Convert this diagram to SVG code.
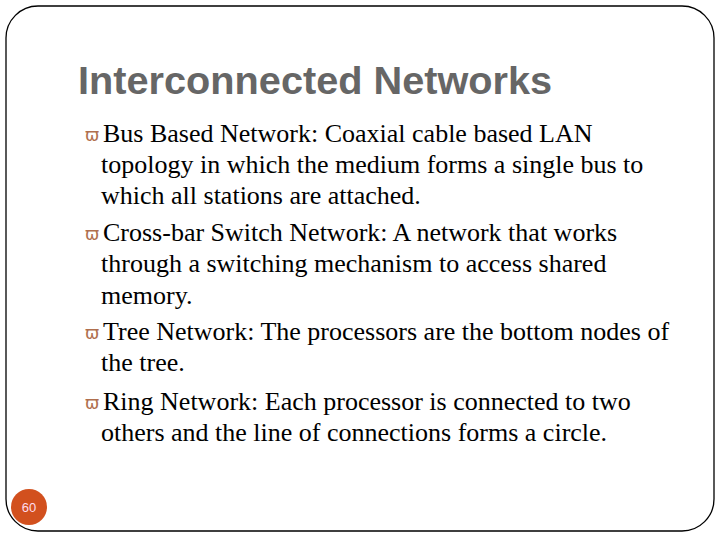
<svg xmlns="http://www.w3.org/2000/svg" width="720" height="540" viewBox="0 0 720 540">
<style>
.t{font-family:"Liberation Serif",serif;font-size:26px;fill:#000}
.b{font-family:"DejaVu Sans",sans-serif;font-size:17px;fill:#b06f4e}
</style>
<rect width="720" height="540" fill="#fff"/>
<rect x="6" y="6" width="708" height="525" rx="32" fill="none" stroke="#000" stroke-width="1.3"/>
<g id="title"><text x="78" y="94" font-family="Liberation Sans,sans-serif" font-weight="bold" font-size="39.7" fill="#666">Interconnected Networks</text></g>
<g id="body">
<text class="b" x="85" y="141">ϖ</text><text class="t" x="103" y="142">Bus Based Network: Coaxial cable based LAN</text>
<text class="t" x="101" y="173">topology in which the medium forms a single bus to</text>
<text class="t" x="101" y="204">which all stations are attached.</text>
<text class="b" x="85" y="240">ϖ</text><text class="t" x="103" y="241">Cross-bar Switch Network: A network that works</text>
<text class="t" x="101" y="272">through a switching mechanism to access shared</text>
<text class="t" x="101" y="304">memory.</text>
<text class="b" x="85" y="339">ϖ</text><text class="t" x="103" y="340">Tree Network: The processors are the bottom nodes of</text>
<text class="t" x="101" y="371">the tree.</text>
<text class="b" x="85" y="409">ϖ</text><text class="t" x="103" y="410">Ring Network: Each processor is connected to two</text>
<text class="t" x="101" y="441">others and the line of connections forms a circle.</text>
</g>
<g id="page"><circle cx="29" cy="507" r="18" fill="#d2501e"/><text x="29" y="512" text-anchor="middle" font-family="Liberation Sans,sans-serif" font-size="13" fill="#fde">60</text></g>
</svg>
